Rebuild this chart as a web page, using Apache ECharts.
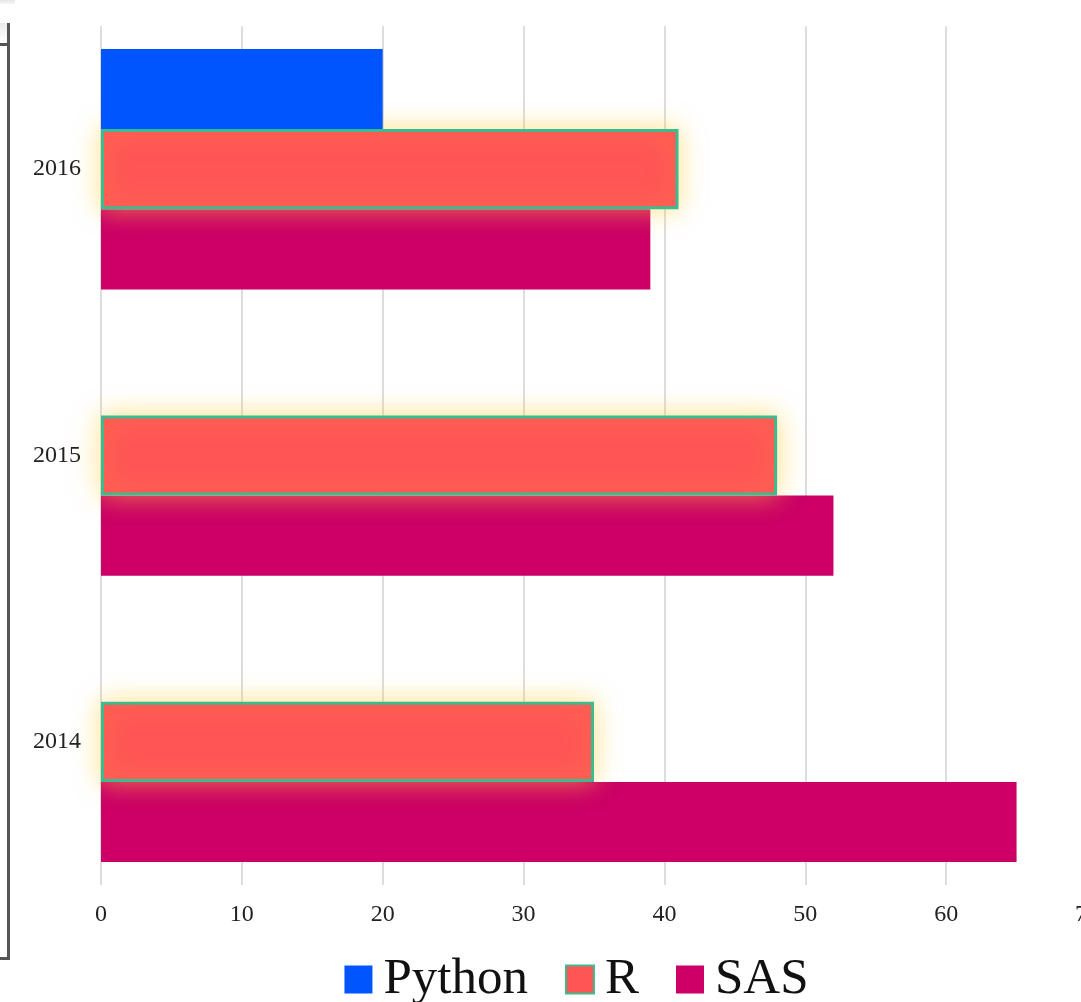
<!DOCTYPE html>
<html>
<head>
<meta charset="utf-8">
<title>Python, R and SAS usage by year</title>
<script src="https://cdn.jsdelivr.net/npm/echarts@6/dist/echarts.min.js"></script>
<style>
  html, body { margin: 0; padding: 0; overflow: hidden; background: #fff; width: 1081px; height: 1002px; }
  #chart { position: absolute; left: 0; top: 0; width: 1153px; height: 1002px; }
  .frame-tab { position: absolute; left: 0; top: 0; width: 15px; height: 4px; background: linear-gradient(#e6e6e6, #f6f6f6); }
  .frame { position: absolute; left: -30px; top: 23px; width: 37px; height: 934px;
           border-right: 3px solid #555; border-bottom: 3px solid #555;
           background: linear-gradient(#ececec, #fff 20px); }
  .frame-rule { position: absolute; left: -30px; top: 43px; width: 37px; height: 3px; background: #555; }
</style>
</head>
<body>
<div class="frame-tab"></div>
<div class="frame"></div>
<div class="frame-rule"></div>
<div id="chart"></div>
<script>
  // Years on the category axis (bottom to top)
  const years = ['2014', '2015', '2016'];
  // Share per tool and year
  const pythonValues = [null, null, 20];
  const rValues = [35, 48, 41];
  const sasValues = [65, 52, 39];
  // Value axis ticks
  const axisMin = 0;
  const axisMax = 70;
  const axisStep = 10;

  const FONT = "'Liberation Serif', 'Times New Roman', serif";

  const chart = echarts.init(document.getElementById('chart'), null, { renderer: 'canvas' });

  chart.setOption({
    animation: false,
    textStyle: { fontFamily: FONT },
    grid: { left: 101, right: 66, top: 26, bottom: 117, containLabel: false, outerBoundsMode: 'none' },
    legend: {
      data: ['Python', 'R', 'SAS'],
      top: 949,
      left: 'center',
      icon: 'rect',
      itemWidth: 28,
      itemHeight: 28,
      itemGap: 37,
      textStyle: { fontFamily: FONT, fontSize: 51, color: '#111', padding: [0, 0, 0, 6] }
    },
    xAxis: {
      type: 'value',
      min: axisMin,
      max: axisMax,
      interval: axisStep,
      axisLine: { show: false },
      axisTick: { show: false },
      axisLabel: { fontFamily: FONT, fontSize: 24, color: '#222', margin: 18 },
      splitLine: { show: true, lineStyle: { color: '#dddddd', width: 2 } }
    },
    yAxis: {
      type: 'category',
      data: years,
      axisLine: { show: false },
      axisTick: { show: false },
      splitLine: { show: false },
      axisLabel: { fontFamily: FONT, fontSize: 24, color: '#222', margin: 20 }
    },
    series: [
      {
        name: 'Python',
        type: 'bar',
        data: pythonValues,
        z: 4,
        barGap: '0%',
        barCategoryGap: '16%',
        itemStyle: { color: '#0055ff' }
      },
      {
        name: 'R',
        type: 'bar',
        data: rValues,
        z: 3,
        barGap: '0%',
        barCategoryGap: '16%',
        itemStyle: {
          color: '#ff5555',
          borderColor: '#3dbb8e',
          borderWidth: 3,
          shadowColor: 'rgba(255, 205, 60, 0.6)',
          shadowBlur: 26
        }
      },
      {
        name: 'SAS',
        type: 'bar',
        data: sasValues,
        z: 2,
        barGap: '0%',
        barCategoryGap: '16%',
        itemStyle: { color: '#cc0066' }
      }
    ]
  });
</script>
</body>
</html>
